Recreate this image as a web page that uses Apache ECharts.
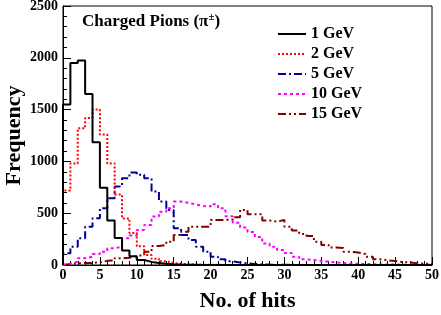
<!DOCTYPE html>
<html>
<head>
<meta charset="utf-8">
<script src="https://cdn.jsdelivr.net/npm/echarts@6/dist/echarts.min.js"></script>
<style>
html,body{margin:0;padding:0;background:#fff;}
#chart{width:441px;height:315px;}
</style>
</head>
<body>
<div id="chart"></div>
<script>
// Histogram bin contents (bin width = 1 hit, bins start at 0)
var seriesNames = ['1 GeV', '2 GeV', '5 GeV', '10 GeV', '15 GeV'];
var gev1 = [1550, 1950, 1975, 1650, 1185, 745, 430, 260, 140, 85, 48, 30, 20, 12, 8, 5, 3, 2, 1, 1, 1, 0, 0, 0, 0, 0, 0, 0, 0, 0, 0, 0, 0, 0, 0, 0, 0, 0, 0, 0, 0, 0, 0, 0, 0, 0, 0, 0, 0, 0];
var gev2 = [720, 980, 1320, 1420, 1500, 1260, 980, 680, 450, 310, 180, 97, 60, 35, 20, 12, 8, 5, 3, 2, 2, 1, 1, 1, 0, 0, 0, 0, 0, 0, 0, 0, 0, 0, 0, 0, 0, 0, 0, 0, 0, 0, 0, 0, 0, 0, 0, 0, 0, 0];
var gev5 = [113, 177, 258, 370, 451, 548, 645, 757, 838, 893, 870, 838, 709, 612, 532, 355, 290, 242, 177, 129, 80, 55, 35, 25, 15, 10, 6, 4, 3, 2, 2, 1, 1, 1, 0, 0, 0, 0, 0, 0, 0, 0, 0, 0, 0, 0, 0, 0, 0, 0];
var gev10 = [15, 32, 65, 80, 106, 129, 161, 177, 258, 285, 338, 387, 467, 515, 548, 612, 600, 585, 570, 565, 587, 548, 470, 409, 361, 318, 270, 207, 177, 145, 116, 80, 55, 48, 39, 32, 25, 20, 15, 12, 10, 8, 6, 5, 4, 3, 3, 2, 2, 1];
var gev15 = [10, 15, 20, 20, 25, 40, 45, 65, 70, 85, 100, 129, 184, 193, 225, 290, 322, 370, 370, 370, 435, 435, 440, 461, 532, 490, 490, 430, 419, 435, 370, 332, 300, 280, 225, 193, 170, 165, 129, 120, 106, 80, 55, 45, 39, 28, 25, 16, 14, 12];
var xTicks = [0, 5, 10, 15, 20, 25, 30, 35, 40, 45, 50];
var yTicks = [0, 500, 1000, 1500, 2000, 2500];

var colors = ['#000000', '#ff0000', '#000099', '#ff00ff', '#800000'];
var dashes = ['solid', [2, 2], [8, 3, 2, 3], [3, 3], [8, 3, 2, 3, 2, 3]];
var allData = [gev1, gev2, gev5, gev10, gev15];

function histPoints(vals) {
  var pts = [[0, 0]];
  for (var i = 0; i < vals.length; i++) pts.push([i, vals[i]]);
  pts.push([vals.length, vals[vals.length - 1]]);
  return pts;
}

var FONT = '"Liberation Serif", "Times New Roman", serif';
var series = allData.map(function (d, k) {
  return {
    name: seriesNames[k],
    type: 'line',
    step: 'end',
    data: histPoints(d),
    symbol: 'none',
    showSymbol: false,
    animation: false,
    color: colors[k],
    lineStyle: { color: colors[k], width: 2, type: dashes[k] },
    z: 10 - k
  };
});

var chart = echarts.init(document.getElementById('chart'), null, { renderer: 'canvas' });
chart.setOption({
  animation: false,
  backgroundColor: '#ffffff',
  grid: { left: 63, right: 9, top: 6, bottom: 50, show: true, borderColor: '#000', borderWidth: 1, backgroundColor: 'transparent', containLabel: false, outerBoundsMode: 'none' },
  title: {
    left: 77, top: 7,
    text: '{b|Charged Pions (}{p|π}{s|±}{b|)}',
    textStyle: {
      rich: {
        b: { fontFamily: FONT, fontWeight: 'bold', fontSize: 17, color: '#000' },
        p: { fontFamily: FONT, fontSize: 17, color: '#000' },
        s: { fontFamily: FONT, fontSize: 11, color: '#000', verticalAlign: 'top', padding: [0, 0, 8, 0] }
      }
    }
  },
  legend: {
    orient: 'vertical',
    left: 272, top: 21,
    itemWidth: 28, itemHeight: 12, itemGap: 4,
    data: seriesNames,
    itemStyle: { opacity: 0 },
    textStyle: { fontFamily: FONT, fontWeight: 'bold', fontSize: 16, color: '#000', padding: [0, 0, 0, 0] }
  },
  xAxis: {
    type: 'value', min: xTicks[0], max: xTicks[xTicks.length - 1], interval: 5,
    name: 'No. of hits', nameLocation: 'middle', nameGap: 25, nameMoveOverlap: false,
    nameTextStyle: { fontFamily: FONT, fontWeight: 'bold', fontSize: 22, color: '#000' },
    axisLine: { lineStyle: { color: '#000', width: 1 } },
    axisTick: { inside: true, length: 8, lineStyle: { color: '#000' } },
    minorTick: { show: true, splitNumber: 5, length: 4, lineStyle: { color: '#000' } },
    splitLine: { show: false },
    axisLabel: { fontFamily: FONT, fontWeight: 'bold', fontSize: 14, color: '#000', margin: 3, formatter: function (v) { return String(v); } }
  },
  yAxis: {
    type: 'value', min: yTicks[0], max: yTicks[yTicks.length - 1], interval: 500,
    name: 'Frequency', nameLocation: 'middle', nameGap: 38, nameRotate: 90, nameMoveOverlap: false,
    nameTextStyle: { fontFamily: FONT, fontWeight: 'bold', fontSize: 22, color: '#000' },
    axisLine: { show: true, lineStyle: { color: '#000', width: 1 } },
    axisTick: { inside: true, length: 8, lineStyle: { color: '#000' } },
    minorTick: { show: true, splitNumber: 5, length: 4, lineStyle: { color: '#000' } },
    splitLine: { show: false },
    axisLabel: { fontFamily: FONT, fontWeight: 'bold', fontSize: 14, color: '#000', margin: 5, formatter: function (v) { return String(v); } }
  },
  series: series
});
</script>
</body>
</html>
